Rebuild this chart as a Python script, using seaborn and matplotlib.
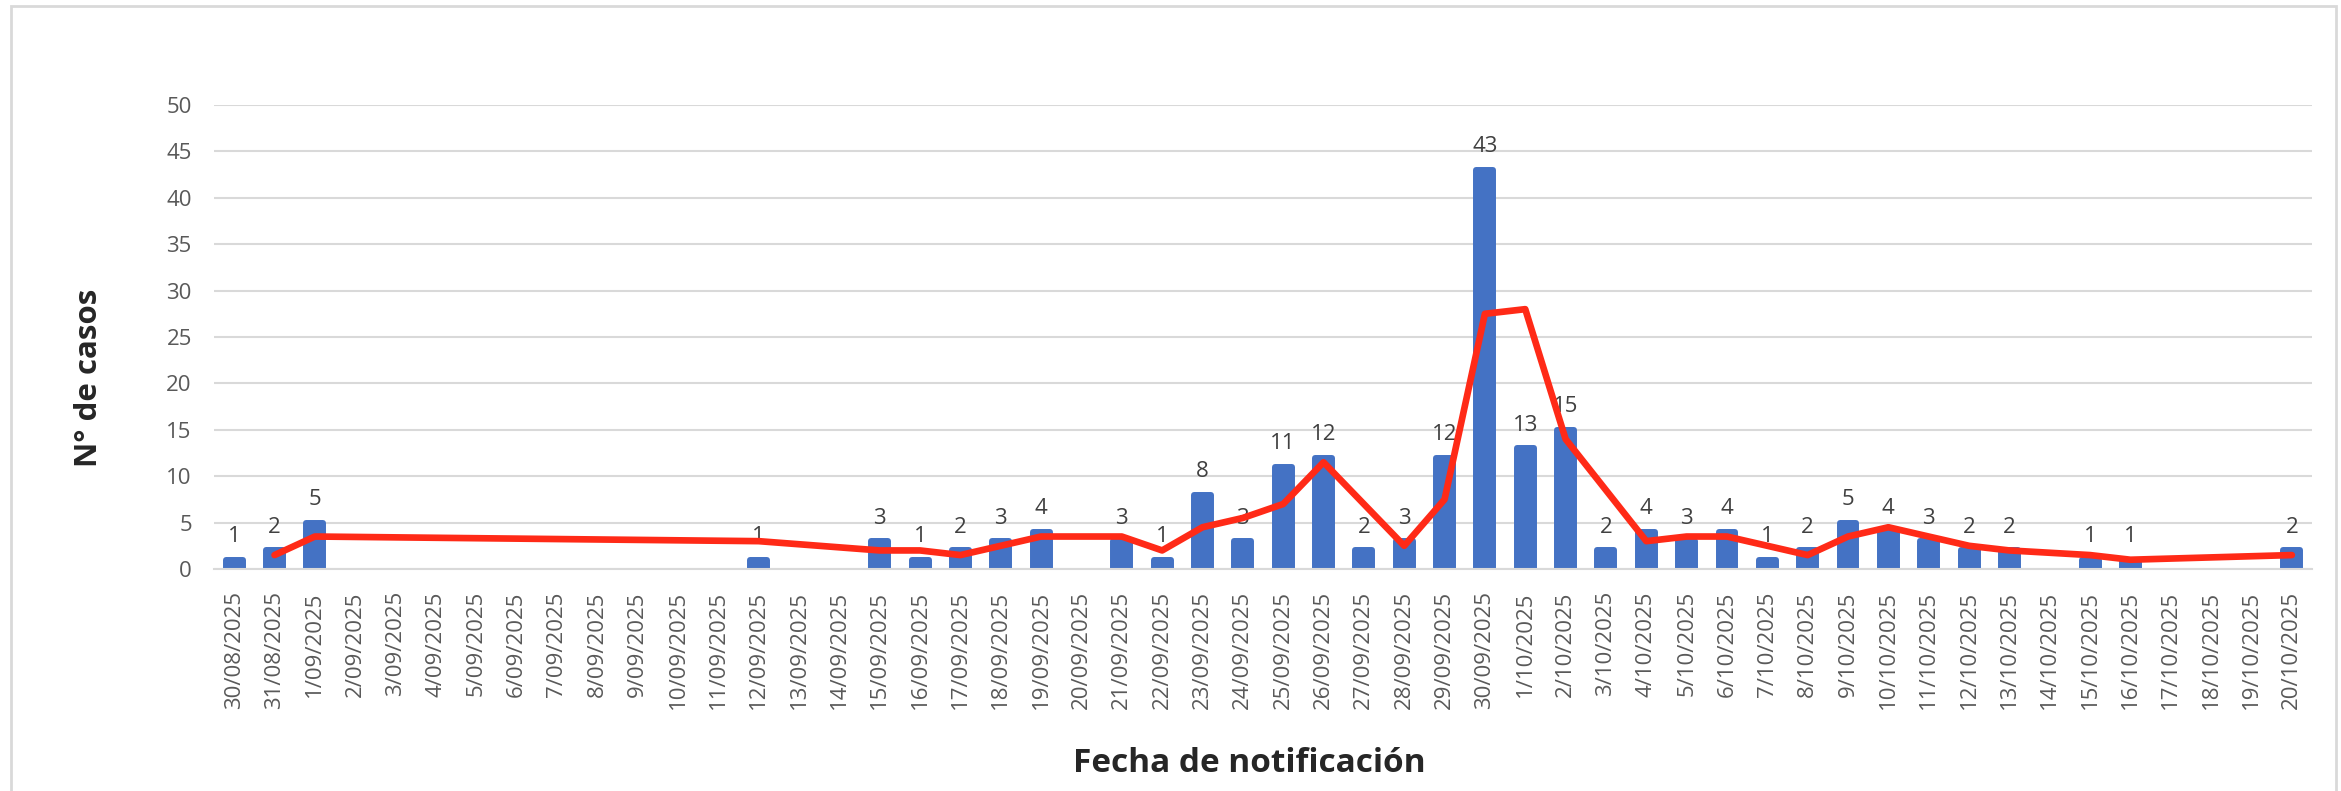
import numpy as np
import pandas as pd
import matplotlib
matplotlib.use("Agg")
import matplotlib.pyplot as plt
import matplotlib.patches as patches
import seaborn as sns

# 1. Datos: casos por fecha de notificación (30/08/2025 - 20/10/2025)
fechas_dt = pd.date_range("2025-08-30", "2025-10-20", freq="D")
fechas = [f"{d.day}/{d.month:02d}/{d.year}" for d in fechas_dt]

casos = [1, 2, 5, 0, 0, 0, 0, 0, 0, 0, 0, 0, 0, 1, 0, 0, 3, 1, 2, 3,
         4, 0, 3, 1, 8, 3, 11, 12, 2, 3, 12, 43, 13, 15, 2, 4, 3, 4, 1, 2,
         5, 4, 3, 2, 2, 0, 1, 1, 0, 0, 0, 2]

# media móvil (línea roja); NaN = sin punto
media_movil = [np.nan, 1.5, 3.5, np.nan, np.nan, np.nan, np.nan, np.nan, np.nan, np.nan,
               np.nan, np.nan, np.nan, 3.0, np.nan, np.nan, 2.0, 2.0, 1.5, 2.5,
               3.5, np.nan, 3.5, 2.0, 4.5, 5.5, 7.0, 11.5, 7.0, 2.5,
               7.5, 27.5, 28.0, 14.0, 8.5, 3.0, 3.5, 3.5, 2.5, 1.5,
               3.5, 4.5, 3.5, 2.5, 2.0, np.nan, 1.5, 1.0, np.nan, np.nan,
               np.nan, 1.5]

df = pd.DataFrame({"fecha": fechas, "casos": casos})
df_linea = pd.DataFrame({"pos": np.arange(len(fechas)), "media": media_movil}).dropna()

# 2. Estilo
sns.set_style("white")
plt.rcParams["font.family"] = ["Open Sans", "DejaVu Sans"]

W, H = 2341, 791
x0, x1, y0, y1 = 214, 2312, 222, 686   # caja del eje en píxeles (desde abajo)
fig = plt.figure(figsize=(W / 100, H / 100), dpi=100)
ax = fig.add_axes([x0 / W, y0 / H, (x1 - x0) / W, (y1 - y0) / H])

gris_texto = "#595959"
gris_linea = "#D9D9D9"
azul = "#4472C4"

# 3. Barras (borde redondeado del mismo color)
sns.barplot(data=df, x="fecha", y="casos", color=azul, width=0.42,
            saturation=1, edgecolor=azul, linewidth=4.3, ax=ax, zorder=2)
for barra, valor in zip(ax.containers[0], casos):
    barra.set_joinstyle("round")
    if valor == 0:
        barra.set_visible(False)  # días sin casos: sin barra

etiquetas = [str(v) if v > 0 else "" for v in casos]
ax.bar_label(ax.containers[0], labels=etiquetas, padding=9,
             fontsize=16, color="#404040")

# 4. Línea de media móvil
sns.lineplot(data=df_linea, x="pos", y="media", color="#FF2A17", linewidth=4.8,
             solid_capstyle="round", solid_joinstyle="round", ax=ax, zorder=3)

# 5. Ejes
ax.set_xlim(-0.5, len(fechas) - 0.5)
ax.set_ylim(0, 50)
ax.set_yticks(range(0, 51, 5))
ax.set_xticks(range(len(fechas)))
ax.set_xticklabels(fechas, rotation=90)
ax.set_xticks(np.arange(-0.5, len(fechas), 1), minor=True)

ax.tick_params(axis="x", which="major", length=0, pad=16, labelsize=16, labelcolor=gris_texto)
ax.tick_params(axis="x", which="minor", length=7, width=1.5, color=gris_linea, direction="out")
ax.tick_params(axis="y", length=0, pad=16, labelsize=16, labelcolor=gris_texto)

ax.yaxis.grid(True, color=gris_linea, linewidth=1.5)
ax.set_axisbelow(True)
for lado in ["left", "top", "right"]:
    ax.spines[lado].set_visible(False)
ax.spines["bottom"].set_color(gris_linea)
ax.spines["bottom"].set_linewidth(1.5)

ax.set_xlabel("Fecha de notificación", fontsize=24, fontweight="bold", va="center")
ax.set_ylabel("N° de casos", fontsize=22.5, fontweight="bold", va="center")
ax.xaxis.set_label_coords((1249 - x0) / (x1 - x0), (H - 763 - y0) / (y1 - y0))
ax.yaxis.set_label_coords((89 - x0) / (x1 - x0), (H - 378 - y0) / (y1 - y0))

# marco del gráfico
marco = patches.Rectangle((11 / W, -0.05), (2336 - 11) / W, (H - 6) / H + 0.05,
                          transform=fig.transFigure, fill=False,
                          edgecolor=gris_linea, linewidth=2, clip_on=False)
fig.patches.append(marco)

fig.savefig("out.png", dpi=100)
